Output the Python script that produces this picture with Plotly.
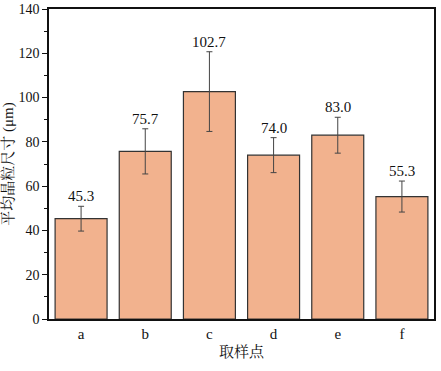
import plotly.graph_objects as go

categories = ["a", "b", "c", "d", "e", "f"]
values = [45.3, 75.7, 102.7, 74.0, 83.0, 55.3]
errors = [5.6, 10.2, 18.0, 7.9, 8.1, 7.0]
labels = ["45.3", "75.7", "102.7", "74.0", "83.0", "55.3"]
y_ticks = [0, 20, 40, 60, 80, 100, 120, 140]

serif = "'Times New Roman', 'Liberation Serif', Tinos, 'DejaVu Serif', serif"
cjk = "'Times New Roman', 'Liberation Serif', 'Noto Serif CJK SC', 'Noto Sans CJK SC', serif"

fig = go.Figure()
fig.add_trace(go.Bar(
    x=categories, y=values, width=0.81,
    marker=dict(color="#F2B28E", line=dict(color="#333333", width=1.2)),
    error_y=dict(type="data", array=errors, visible=True, color="#444444",
                 thickness=1, width=3),
    showlegend=False,
))

for c, v, e, t in zip(categories, values, errors, labels):
    fig.add_annotation(x=c, y=v + e, text=t, showarrow=False, yanchor="bottom",
                       yshift=0, font=dict(family=serif, size=15, color="#111111"))

fig.update_layout(
    width=441, height=371,
    margin=dict(l=49, r=7, t=9, b=52),
    paper_bgcolor="white", plot_bgcolor="white",
    font=dict(family=serif, size=14, color="#111111"),
    bargap=0.19,
)
fig.update_xaxes(
    range=[-0.5, 5.5], showline=True, linecolor="#111111", linewidth=1.5,
    mirror=True, ticks="", tickfont=dict(family=serif, size=15), automargin=False,
    title=dict(text="取样点", font=dict(family=cjk, size=15), standoff=6),
)
fig.update_yaxes(
    range=[0, 140], tickvals=y_ticks, showline=True, linecolor="#111111",
    linewidth=1.5, mirror=True, ticks="outside", ticklen=5, tickcolor="#111111",
    minor=dict(ticks="outside", ticklen=3, dtick=10, tickcolor="#111111"),
    showgrid=False, zeroline=False, tickfont=dict(family=serif, size=14),
    automargin=False,
    title=dict(text="平均晶粒尺寸 (μm)", font=dict(family=cjk, size=15), standoff=4),
)

fig.write_html("out.html", config={"displayModeBar": False},
               post_script="document.body.style.margin='0';")
